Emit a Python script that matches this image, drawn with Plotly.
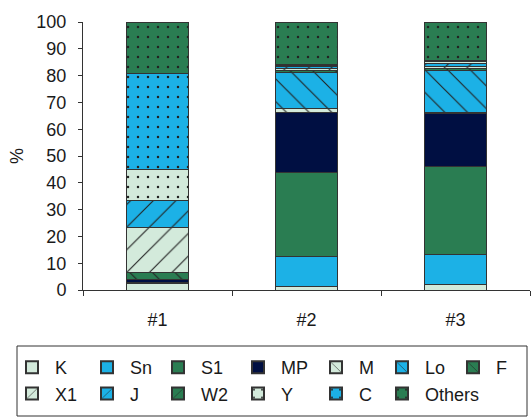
import plotly.graph_objects as go

categories = ["#1", "#2", "#3"]

K = [2.5, 1.2, 1.9]
Sn = [0.4, 11.4, 11.2]
S1 = [0.0, 31.3, 32.8]
MP = [1.1, 22.3, 20.1]
M = [0.0, 1.4, 0.3]
Lo = [0.0, 13.7, 15.6]
F = [2.6, 0.5, 0.6]
X1 = [16.6, 0.7, 1.0]
J = [10.2, 1.0, 1.2]
W2 = [0.0, 0.0, 0.0]
Y = [11.4, 0.4, 0.5]
C = [36.1, 0.4, 0.6]
Others = [19.1, 15.7, 14.2]

y_ticks = [0, 10, 20, 30, 40, 50, 60, 70, 80, 90, 100]

LIGHT = "#d3eadb"
BLUE = "#1cb1e6"
GREEN = "#2a7d52"
NAVY = "#000f42"

series = [
    ("K", K, LIGHT, ""),
    ("Sn", Sn, BLUE, ""),
    ("S1", S1, GREEN, ""),
    ("MP", MP, NAVY, ""),
    ("M", M, LIGHT, "\\"),
    ("Lo", Lo, BLUE, "\\"),
    ("F", F, GREEN, "\\"),
    ("X1", X1, LIGHT, "/"),
    ("J", J, BLUE, "/"),
    ("W2", W2, GREEN, "/"),
    ("Y", Y, LIGHT, "."),
    ("C", C, BLUE, "."),
    ("Others", Others, GREEN, "."),
]

# pixel geometry of the figure
W, H = 532, 417
ML, MR, MT, MB = 83, 2, 22, 127
PW, PH = W - ML - MR, H - MT - MB


def px_x(p):
    return (p - ML) / PW


def px_y(p):
    return (H - MB - p) / PH


legend_cols_px = [32, 107, 178, 258, 336, 402, 473]  # symbol centres
legend_names = ["legend"] + ["legend%d" % i for i in range(2, 8)]

fig = go.Figure()
for i, (name, vals, col, shape) in enumerate(series):
    marker = dict(color=col, line=dict(color="#333333", width=1))
    if shape:
        if shape == ".":
            marker["pattern"] = dict(shape=".", fgcolor="#222222", size=10,
                                     solidity=0.05, fillmode="replace", bgcolor=col)
        else:
            marker["pattern"] = dict(shape=shape, fgcolor="#222222", size=16,
                                     solidity=0.07, fillmode="replace", bgcolor=col)
    fig.add_trace(go.Bar(name=name, x=categories, y=vals, marker=marker, width=0.41,
                         legend=legend_names[i % 7], legendgroup=name))

layout_legends = {}
for c, lname in enumerate(legend_names):
    layout_legends[lname] = dict(
        orientation="v",
        traceorder="normal",
        xref="paper", yref="paper",
        x=px_x(legend_cols_px[c] - 23), y=px_y(349),
        xanchor="left", yanchor="top",
        borderwidth=0, bgcolor="rgba(0,0,0,0)",
        font=dict(size=18),
        itemsizing="constant",
        itemwidth=36,
        tracegroupgap=11,
    )

fig.update_layout(
    barmode="stack",
    width=W, height=H,
    margin=dict(l=ML, r=MR, t=MT, b=MB, autoexpand=False),
    paper_bgcolor="white", plot_bgcolor="white",
    font=dict(family="Liberation Sans, Arial, sans-serif", color="#1a1a1a"),
    showlegend=True,
    **layout_legends,
)

fig.add_shape(type="rect", xref="paper", yref="paper",
              x0=px_x(17), x1=px_x(527), y0=px_y(346), y1=px_y(416),
              line=dict(color="#333333", width=1), fillcolor="rgba(0,0,0,0)",
              layer="below")

fig.update_xaxes(
    showline=True, linecolor="#333333", linewidth=1,
    ticks="outside", ticklen=5, tickcolor="#333333",
    tickson="boundaries",
    tickfont=dict(size=18),
    ticklabelstandoff=13,
    showgrid=False,
)
fig.update_yaxes(
    range=[0, 100],
    tickvals=y_ticks,
    showline=True, linecolor="#333333", linewidth=1,
    ticks="outside", ticklen=4, tickcolor="#333333",
    tickfont=dict(size=18),
    ticklabelstandoff=8,
    showgrid=False, zeroline=False,
    title=dict(text="%", font=dict(size=18), standoff=8),
)

fig.write_html("out.html", config={"displayModeBar": False},
               post_script="document.body.style.margin='0';document.body.style.overflow='hidden';")
